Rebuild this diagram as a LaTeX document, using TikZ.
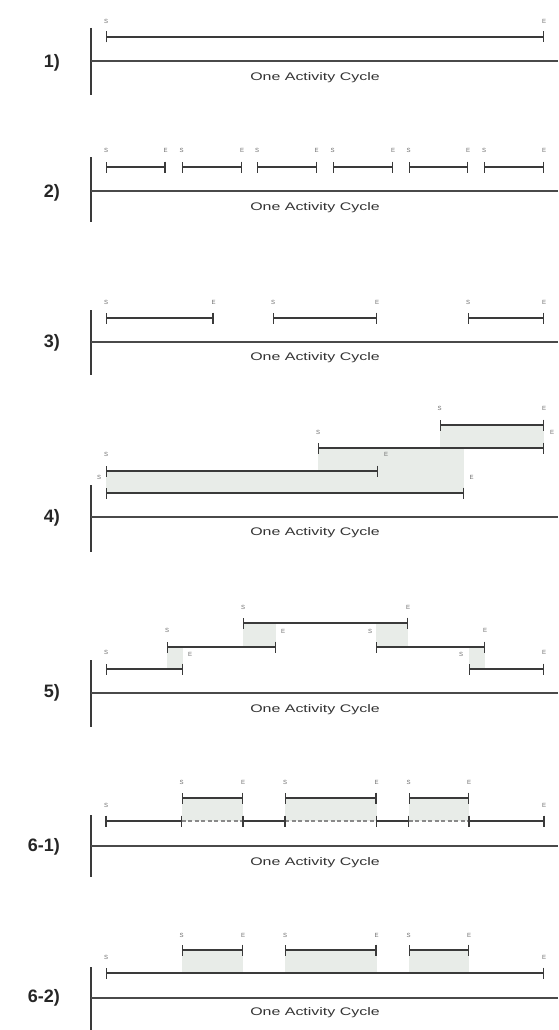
\documentclass[tikz,border=0pt]{standalone}
\usepackage{fontspec}
\setmainfont{Liberation Sans}
\usetikzlibrary{arrows.meta}
\definecolor{linec}{HTML}{3A3A3A}
\definecolor{basec}{HTML}{4A4A4A}
\definecolor{shadec}{HTML}{E8ECE8}
\definecolor{labc}{HTML}{6E6E6E}
\tikzset{
  barl/.style={line width=1.5pt, draw=linec, {Bar[width=11pt,line width=1.1pt]}-{Bar[width=11pt,line width=1.1pt]}},
  plainl/.style={line width=1.5pt, draw=linec},
  dashl/.style={line width=1.5pt, draw=linec!60, dash pattern=on 4pt off 2.5pt},
  tickl/.style={line width=1.1pt, draw=linec},
  basel/.style={line width=1.8pt, draw=basec},
  axisl/.style={line width=1.4pt, draw=linec},
  rowlab/.style={font=\fontsize{18}{18}\selectfont\bfseries, text=black!85, anchor=east, inner sep=0pt},
  sm/.style={font=\fontsize{6}{6}\selectfont, text=labc, inner sep=0pt},
  cyc/.style={font=\fontsize{11}{11}\selectfont, text=black!80, inner sep=0pt},
  shadebox/.style={fill=shadec, draw=none},
}
\newcommand\cyctext{\scalebox{1.45}[1]{One Activity Cycle}}
\begin{document}
\begin{tikzpicture}[x=1pt,y=-1pt]
\useasboundingbox (0,0) rectangle (558,1030);
\fill[white] (0,0) rectangle (558,1030);

% ---------- Row 1 ----------
\coordinate (a1t) at (91,28); \coordinate (a1b) at (91,95);
\coordinate (b1l) at (91,61); \coordinate (b1r) at (558,61);
\draw[axisl] (a1t) -- (a1b);
\draw[basel] (b1l) -- (b1r);
\node[rowlab] (l1) at (60,63) {1)};
\node[cyc] (c1) at (315,77.5) {\cyctext};
\coordinate (r1s) at (106,37); \coordinate (r1e) at (544,37);
\draw[barl] (r1s) -- (r1e);
\node[sm] (r1sl) at (106,21) {S};
\node[sm] (r1el) at (544,21) {E};

% ---------- Row 2 ----------
\coordinate (a2t) at (91,157); \coordinate (a2b) at (91,222);
\coordinate (b2l) at (91,191); \coordinate (b2r) at (558,191);
\draw[axisl] (a2t) -- (a2b);
\draw[basel] (b2l) -- (b2r);
\node[rowlab] (l2) at (60,193) {2)};
\node[cyc] (c2) at (315,207.5) {\cyctext};
\foreach \xa/\xb [count=\i] in {106/165.5,181.5/242,257/316.7,332.7/393,408.5/468,484/544}{
  \coordinate (r2s\i) at (\xa,167); \coordinate (r2e\i) at (\xb,167);
  \draw[barl] (r2s\i) -- (r2e\i);
  \node[sm] (r2sl\i) at (\xa,150) {S};
  \node[sm] (r2el\i) at (\xb,150) {E};
}

% ---------- Row 3 ----------
\coordinate (a3t) at (91,310); \coordinate (a3b) at (91,375);
\coordinate (b3l) at (91,342); \coordinate (b3r) at (558,342);
\draw[axisl] (a3t) -- (a3b);
\draw[basel] (b3l) -- (b3r);
\node[rowlab] (l3) at (60,343) {3)};
\node[cyc] (c3) at (315,358) {\cyctext};
\foreach \xa/\xb [count=\i] in {106/213.5,273/377,468/544}{
  \coordinate (r3s\i) at (\xa,318); \coordinate (r3e\i) at (\xb,318);
  \draw[barl] (r3s\i) -- (r3e\i);
  \node[sm] (r3sl\i) at (\xa,302) {S};
  \node[sm] (r3el\i) at (\xb,302) {E};
}

% ---------- Row 4 ----------
\fill[shadebox] (439.5,425) rectangle (544,448);
\fill[shadebox] (318,448) rectangle (464,493);
\fill[shadebox] (106,471) rectangle (378,493);
\coordinate (a4t) at (91,485); \coordinate (a4b) at (91,552);
\coordinate (b4l) at (91,517); \coordinate (b4r) at (558,517);
\draw[axisl] (a4t) -- (a4b);
\draw[basel] (b4l) -- (b4r);
\node[rowlab] (l4) at (60,518) {4)};
\node[cyc] (c4) at (315,533) {\cyctext};
\coordinate (r4as) at (439.5,425); \coordinate (r4ae) at (544,425);
\coordinate (r4bs) at (318,448);   \coordinate (r4be) at (544,448);
\coordinate (r4cs) at (106,471);   \coordinate (r4ce) at (378,471);
\coordinate (r4ds) at (106,493);   \coordinate (r4de) at (464,493);
\draw[barl] (r4as) -- (r4ae);
\draw[barl] (r4bs) -- (r4be);
\draw[barl] (r4cs) -- (r4ce);
\draw[barl] (r4ds) -- (r4de);
\node[sm] (r4asl) at (439.5,408) {S};
\node[sm] (r4ael) at (544,408) {E};
\node[sm] (r4bsl) at (318,432) {S};
\node[sm] (r4bel) at (552,432) {E};
\node[sm] (r4csl) at (106,454) {S};
\node[sm] (r4cel) at (386,454) {E};
\node[sm] (r4dsl) at (99,477) {S};
\node[sm] (r4del) at (471.5,477) {E};

% ---------- Row 5 ----------
\fill[shadebox] (243,623) rectangle (276,647);
\fill[shadebox] (376,623) rectangle (408,647);
\fill[shadebox] (167,647) rectangle (183,669);
\fill[shadebox] (469,647) rectangle (485,669);
\coordinate (a5t) at (91,660); \coordinate (a5b) at (91,727);
\coordinate (b5l) at (91,693); \coordinate (b5r) at (558,693);
\draw[axisl] (a5t) -- (a5b);
\draw[basel] (b5l) -- (b5r);
\node[rowlab] (l5) at (60,693) {5)};
\node[cyc] (c5) at (315,710) {\cyctext};
\coordinate (r5as) at (106,669); \coordinate (r5ae) at (183,669);
\coordinate (r5bs) at (469,669); \coordinate (r5be) at (544,669);
\coordinate (r5cs) at (167,647); \coordinate (r5ce) at (276,647);
\coordinate (r5ds) at (376,647); \coordinate (r5de) at (485,647);
\coordinate (r5es) at (243,623); \coordinate (r5ee) at (408,623);
\draw[barl] (r5as) -- (r5ae);
\draw[barl] (r5bs) -- (r5be);
\draw[barl] (r5cs) -- (r5ce);
\draw[barl] (r5ds) -- (r5de);
\draw[barl] (r5es) -- (r5ee);
\node[sm] (r5asl) at (106,652) {S};
\node[sm] (r5ael) at (190,654) {E};
\node[sm] (r5bsl) at (461,654) {S};
\node[sm] (r5bel) at (544,652) {E};
\node[sm] (r5csl) at (167,630) {S};
\node[sm] (r5cel) at (283,631) {E};
\node[sm] (r5dsl) at (370,631) {S};
\node[sm] (r5del) at (485,630) {E};
\node[sm] (r5esl) at (243,607) {S};
\node[sm] (r5eel) at (408,607) {E};

% ---------- Row 6-1 ----------
\foreach \xa/\xb in {181.5/243,285/376.5,408.5/469}{
  \fill[shadebox] (\xa,798) rectangle (\xb,821);
}
\coordinate (a6t) at (91,815); \coordinate (a6b) at (91,877);
\coordinate (b6l) at (91,846); \coordinate (b6r) at (558,846);
\draw[axisl] (a6t) -- (a6b);
\draw[basel] (b6l) -- (b6r);
\node[rowlab] (l6) at (60,847) {6-1)};
\node[cyc] (c6) at (315,863) {\cyctext};
\foreach \xa/\xb [count=\i] in {181.5/243,285/376.5,408.5/469}{
  \coordinate (r6us\i) at (\xa,798); \coordinate (r6ue\i) at (\xb,798);
  \draw[barl] (r6us\i) -- (r6ue\i);
  \node[sm] (r6usl\i) at (\xa,782) {S};
  \node[sm] (r6uel\i) at (\xb,782) {E};
}
\coordinate (r6p0) at (106,821);
\coordinate (r6p1) at (181.5,821); \coordinate (r6p2) at (243,821);
\coordinate (r6p3) at (285,821);   \coordinate (r6p4) at (376.5,821);
\coordinate (r6p5) at (408.5,821); \coordinate (r6p6) at (469,821);
\coordinate (r6p7) at (544,821);
\draw[plainl] (r6p0) -- (r6p1);
\draw[dashl] (r6p1) -- (r6p2);
\draw[plainl] (r6p2) -- (r6p3);
\draw[dashl] (r6p3) -- (r6p4);
\draw[plainl] (r6p4) -- (r6p5);
\draw[dashl] (r6p5) -- (r6p6);
\draw[plainl] (r6p6) -- (r6p7);
\foreach \i in {0,...,7}{
  \draw[tickl] ([yshift=5.5pt]r6p\i) -- ([yshift=-5.5pt]r6p\i);
}
\node[sm] (r6lsl) at (106,805) {S};
\node[sm] (r6lel) at (544,805) {E};

% ---------- Row 6-2 ----------
\foreach \xa/\xb in {181.5/243,285/376.5,408.5/469}{
  \fill[shadebox] (\xa,950) rectangle (\xb,973);
}
\coordinate (a7t) at (91,967); \coordinate (a7b) at (91,1030);
\coordinate (b7l) at (91,998); \coordinate (b7r) at (558,998);
\draw[axisl] (a7t) -- (a7b);
\draw[basel] (b7l) -- (b7r);
\node[rowlab] (l7) at (60,998) {6-2)};
\node[cyc] (c7) at (315,1013) {\cyctext};
\foreach \xa/\xb [count=\i] in {181.5/243,285/376.5,408.5/469}{
  \coordinate (r7us\i) at (\xa,950); \coordinate (r7ue\i) at (\xb,950);
  \draw[barl] (r7us\i) -- (r7ue\i);
  \node[sm] (r7usl\i) at (\xa,935) {S};
  \node[sm] (r7uel\i) at (\xb,935) {E};
}
\coordinate (r7ls) at (106,973); \coordinate (r7le) at (544,973);
\draw[barl] (r7ls) -- (r7le);
\node[sm] (r7lsl) at (106,957) {S};
\node[sm] (r7lel) at (544,957) {E};
\end{tikzpicture}
\end{document}
